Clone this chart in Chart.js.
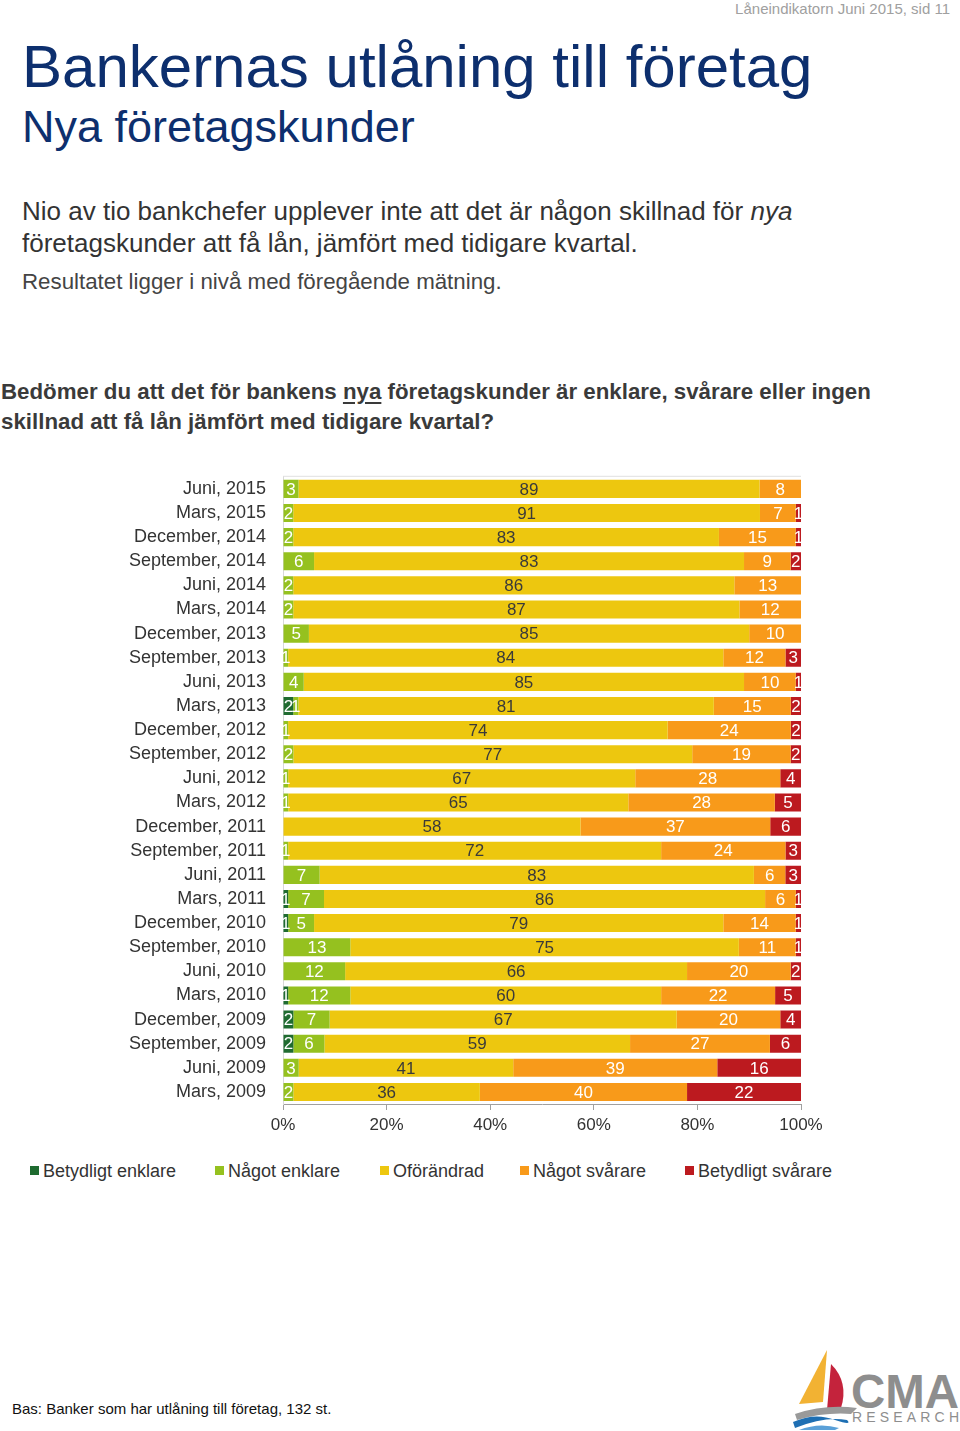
<!DOCTYPE html>
<html>
<head>
<meta charset="utf-8">
<script src="https://cdn.jsdelivr.net/npm/chart.js@4"></script>
<style>
  body { margin: 0; background: #fff; font-family: "Liberation Sans", Arial, sans-serif; }
  #page { position: relative; width: 960px; height: 1431px; overflow: hidden; }
  .abs { position: absolute; white-space: nowrap; }
  #hdr { right: 10px; top: 0; font-size: 15px; color: #a0a0a0; }
  #title { left: 22px; top: 32px; font-size: 60px; color: #0d2f6e; }
  #subtitle { left: 22px; top: 101px; font-size: 45px; color: #0d2f6e; }
  #lead { left: 22px; top: 195px; font-size: 26px; line-height: 32px; color: #333; }
  #note { left: 22px; top: 269px; font-size: 22.3px; color: #444; }
  #question { left: 1px; top: 377px; font-size: 22.3px; line-height: 30px; font-weight: bold; color: #3a3a3a; }
  #question u { text-underline-offset: 3px; }
  #chartWrap { left: 0; top: 449px; }
  .leg { top: 1161px; font-size: 18px; color: #333; }
  .leg span { display: inline-block; width: 9px; height: 9px; margin-right: 4px; vertical-align: 2px; }
  #foot { left: 12px; top: 1400px; font-size: 15px; color: #111; }
</style>
</head>
<body>
<div id="page">
  <div id="hdr" class="abs">Låneindikatorn Juni 2015, sid 11</div>
  <div id="title" class="abs">Bankernas utlåning till företag</div>
  <div id="subtitle" class="abs">Nya företagskunder</div>
  <div id="lead" class="abs">Nio av tio bankchefer upplever inte att det är någon skillnad för <i>nya</i><br>företagskunder att få lån, jämfört med tidigare kvartal.</div>
  <div id="note" class="abs">Resultatet ligger i nivå med föregående mätning.</div>
  <div id="question" class="abs">Bedömer du att det för bankens <u>nya</u> företagskunder är enklare, svårare eller ingen<br>skillnad att få lån jämfört med tidigare kvartal?</div>
  <div id="chartWrap" class="abs"><canvas id="chart" width="960" height="695"></canvas></div>
  <div id="legend"></div>
  <div id="foot" class="abs">Bas: Banker som har utlåning till företag, 132 st.</div>
  <svg class="abs" style="left:785px; top:1342px" width="175" height="89" viewBox="0 0 175 89">
    <path d="M42 8 L14 62 L38 60 Z" fill="#f2b233"/>
    <path d="M46 22 Q64 40 56 66 L42 68 Z" fill="#c4233c"/>
    <path d="M10 72 Q40 62 72 66 L66 72 Q40 70 12 78 Z" fill="#9a9a9a"/>
    <path d="M8 80 Q30 70 50 78 Q68 84 62 78 Q40 74 10 86 Z" fill="#1e6fb3"/>
    <path d="M14 88 Q34 80 54 86 L50 88 Z" fill="#5aa0d8"/>
    <text x="66" y="66" font-family="Liberation Sans, Arial" font-weight="bold" font-size="48" fill="#8e8e8e" textLength="108" lengthAdjust="spacingAndGlyphs">CMA</text>
    <text x="67" y="80" font-family="Liberation Sans, Arial" font-size="14" fill="#8e8e8e" textLength="107" lengthAdjust="spacing">RESEARCH</text>
  </svg>
</div>
<script>
// --- Data (top row first) ---
const categories = [
    'Juni, 2015', 'Mars, 2015', 'December, 2014', 'September, 2014',
    'Juni, 2014', 'Mars, 2014', 'December, 2013', 'September, 2013',
    'Juni, 2013', 'Mars, 2013', 'December, 2012', 'September, 2012',
    'Juni, 2012', 'Mars, 2012', 'December, 2011', 'September, 2011',
    'Juni, 2011', 'Mars, 2011', 'December, 2010', 'September, 2010',
    'Juni, 2010', 'Mars, 2010', 'December, 2009', 'September, 2009',
    'Juni, 2009', 'Mars, 2009'
];
const betydligtEnklare = [0, 0, 0, 0, 0, 0, 0, 0, 0, 2, 0, 0, 0, 0, 0, 0, 0, 1, 1, 0, 0, 1, 2, 2, 0, 0];
const nagotEnklare     = [3, 2, 2, 6, 2, 2, 5, 1, 4, 1, 1, 2, 1, 1, 0, 1, 7, 7, 5, 13, 12, 12, 7, 6, 3, 2];
const oforandrad       = [89, 91, 83, 83, 86, 87, 85, 84, 85, 81, 74, 77, 67, 65, 58, 72, 83, 86, 79, 75, 66, 60, 67, 59, 41, 36];
const nagotSvarare     = [8, 7, 15, 9, 13, 12, 10, 12, 10, 15, 24, 19, 28, 28, 37, 24, 6, 6, 14, 11, 20, 22, 20, 27, 39, 40];
const betydligtSvarare = [0, 1, 1, 2, 0, 0, 0, 3, 1, 2, 2, 2, 4, 5, 6, 3, 3, 1, 1, 1, 2, 5, 4, 6, 16, 22];
const seriesNames = ['Betydligt enklare', 'Något enklare', 'Oförändrad', 'Något svårare', 'Betydligt svårare'];
const xTicks = [0, 20, 40, 60, 80, 100];

const seriesValues = [betydligtEnklare, nagotEnklare, oforandrad, nagotSvarare, betydligtSvarare];
const seriesColors = ['#1f6b30', '#95c11f', '#edc70f', '#f89a1a', '#bc1a1f'];
const labelColors = ['#fff', '#fff', '#3a3a3a', '#fff', '#fff'];

// 100% stacked: each row scaled to its own total
const rowTotals = categories.map((c, j) => seriesValues.reduce((s, arr) => s + arr[j], 0));

const segmentLabels = {
    id: 'segmentLabels',
    afterDatasetsDraw(chart) {
        const ctx = chart.ctx;
        ctx.save();
        ctx.font = '17px "Liberation Sans", Arial, sans-serif';
        ctx.textAlign = 'center';
        ctx.textBaseline = 'middle';
        chart.data.datasets.forEach((ds, i) => {
            const meta = chart.getDatasetMeta(i);
            meta.data.forEach((bar, j) => {
                const v = ds.raw[j];
                if (!v) return;
                ctx.fillStyle = labelColors[i];
                ctx.fillText(String(v), (bar.x + bar.base) / 2, bar.y + 1);
            });
        });
        // light frame line on top of plot
        const a = chart.chartArea;
        ctx.strokeStyle = '#e0e0e0';
        ctx.lineWidth = 1;
        ctx.beginPath();
        ctx.moveTo(a.left, a.top - 0.5);
        ctx.lineTo(a.right, a.top - 0.5);
        ctx.stroke();
        ctx.restore();
    }
};

document.addEventListener('DOMContentLoaded', function () {
    const ctx = document.getElementById('chart').getContext('2d');
    new Chart(ctx, {
        type: 'bar',
        data: {
            labels: categories,
            datasets: seriesNames.map((name, i) => ({
                label: name,
                raw: seriesValues[i],
                data: seriesValues[i].map((v, j) => v * 100 / rowTotals[j]),
                backgroundColor: seriesColors[i],
                borderWidth: 0,
                categoryPercentage: 1,
                barPercentage: 0.75
            }))
        },
        options: {
            indexAxis: 'y',
            responsive: false,
            devicePixelRatio: 1,
            animation: false,
            layout: { padding: { top: 6, right: 159, left: 0, bottom: 0 } },
            plugins: { legend: { display: false }, tooltip: { enabled: false } },
            scales: {
                x: {
                    stacked: true,
                    min: 0,
                    max: 100,
                    afterBuildTicks(scale) { scale.ticks = xTicks.map(v => ({ value: v })); },
                    afterFit(scale) { scale.height = 40; },
                    grid: { drawOnChartArea: false, drawTicks: true, tickLength: 6, color: '#a0a0a0' },
                    border: { color: '#a0a0a0' },
                    ticks: {
                        padding: 5,
                        color: '#333',
                        font: { size: 17, family: '"Liberation Sans", Arial, sans-serif' },
                        callback: v => v + '%'
                    }
                },
                y: {
                    stacked: true,
                    afterFit(scale) { scale.width = 283; },
                    grid: { display: false, drawTicks: false },
                    border: { color: '#d8d8d8' },
                    ticks: {
                        autoSkip: false,
                        padding: 17,
                        color: '#333',
                        font: { size: 18, family: '"Liberation Sans", Arial, sans-serif' }
                    }
                }
            }
        },
        plugins: [segmentLabels]
    });

    // legend
    const legendX = [30, 215, 380, 520, 685];
    const legend = document.getElementById('legend');
    seriesNames.forEach((name, i) => {
        const d = document.createElement('div');
        d.className = 'abs leg';
        d.style.left = legendX[i] + 'px';
        d.innerHTML = '<span style="background:' + seriesColors[i] + '"></span>' + name;
        legend.appendChild(d);
    });
});
</script>
</body>
</html>
